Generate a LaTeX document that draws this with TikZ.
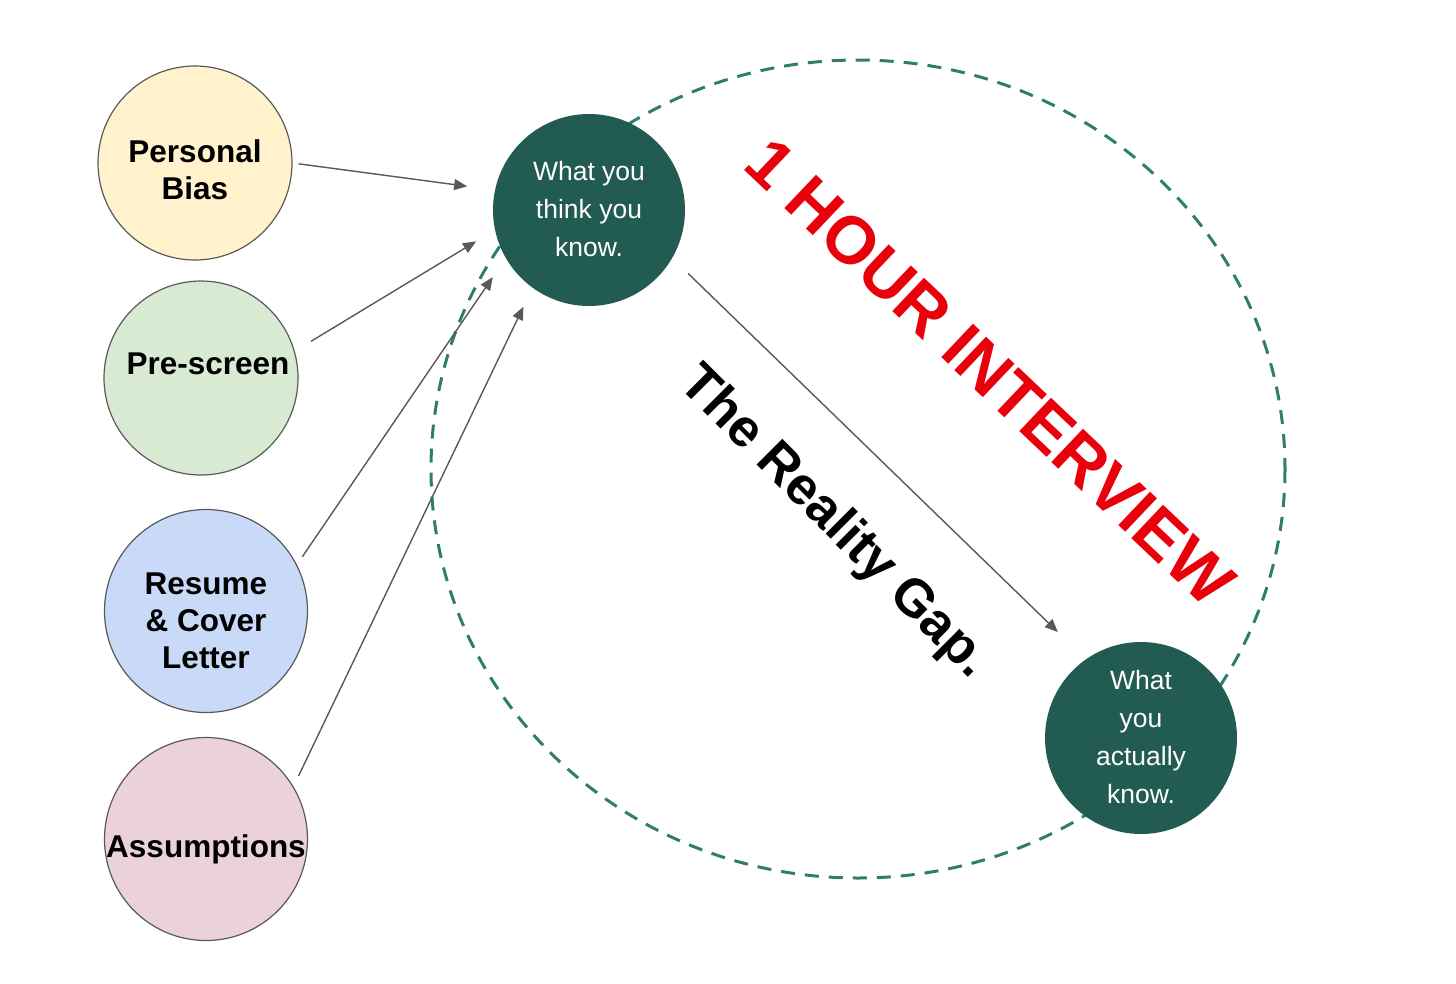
\documentclass[tikz,border=0pt]{standalone}
\usepackage{fontspec}
\setmainfont{Liberation Sans}
\usetikzlibrary{arrows.meta}
\definecolor{pbfill}{HTML}{FFF2CC}
\definecolor{psfill}{HTML}{D9EAD3}
\definecolor{rcfill}{HTML}{C9DAF8}
\definecolor{asfill}{HTML}{EAD1DC}
\definecolor{darkgreen}{HTML}{225B51}
\definecolor{dashteal}{HTML}{2E7D6E}
\definecolor{arrgray}{HTML}{595959}
\definecolor{redtxt}{HTML}{E8000B}
\tikzset{
  srcbubble/.style={circle, draw=arrgray, line width=1.2pt, inner sep=0pt},
  knowbubble/.style={circle, fill=darkgreen, draw=none, inner sep=0pt, minimum size=192pt},
  srclabel/.style={font=\fontsize{31.5}{37}\selectfont\bfseries, align=center, inner sep=0pt, text=black},
  knowlabel/.style={font=\fontsize{26.5}{38}\selectfont, align=center, inner sep=0pt, text=white},
  arr/.style={draw=arrgray, line width=1.4pt, -{Triangle[length=13pt,width=11pt]}, fill=arrgray},
  gapring/.style={draw=dashteal, line width=3pt, dash pattern=on 14pt off 10pt}
}
\begin{document}
\begin{tikzpicture}[x=1pt,y=-1pt]
\useasboundingbox (0,0) rectangle (1456,983);
% dashed interview ring
\draw[gapring] (858,469) ellipse [x radius=427, y radius=409];
% source bubbles
\node[srcbubble, fill=pbfill, minimum size=194pt] (pb) at (195,163) {};
\node[srcbubble, fill=psfill, minimum size=194pt] (ps) at (201,378) {};
\node[srcbubble, fill=rcfill, minimum size=203pt] (rc) at (206,611) {};
\node[srcbubble, fill=asfill, minimum size=203pt] (as) at (206,839) {};
\node[srclabel] (pbt) at (195,170) {Personal\\Bias};
\node[srclabel] (pst) at (208,364) {Pre-screen};
\node[srclabel] (rct) at (206,621) {Resume\\\& Cover\\Letter};
\node[srclabel] (ast) at (206,849) {Assumptions};
% knowledge bubbles
\node[knowbubble] (think) at (589,210) {};
\node[knowbubble] (actual) at (1141,738) {};
\node[knowlabel] (thinkt) at (589,209) {What you\\think you\\know.};
\node[knowlabel] (actualt) at (1141,737) {What\\you\\actually\\know.};
% arrows
\draw[arr, shorten <=6pt, shorten >=28pt] (pb.0) -- (think.168);
\draw[arr, shorten <=19pt, shorten >=22pt] (ps.16) -- (think.192.7);
\draw[arr, shorten <=9.5pt, shorten >=23pt] (rc.27.5) -- (think.210.2);
\draw[arr, shorten <=11.7pt, shorten >=21pt] (as.31.6) -- (think.234.4);
\draw[arr, shorten <=22pt, shorten >=39pt] (think.-30.5) -- (actual.125.7);
% rotated titles
\node[text=redtxt, font=\fontsize{67}{67}\selectfont\bfseries, rotate=-43.5, inner sep=0pt] (title) at (990,372) {1 HOUR INTERVIEW};
\node[text=black, font=\fontsize{53}{53}\selectfont\bfseries, rotate=-45, inner sep=0pt] (gap) at (834,523) {The Reality Gap.};
\end{tikzpicture}
\end{document}
